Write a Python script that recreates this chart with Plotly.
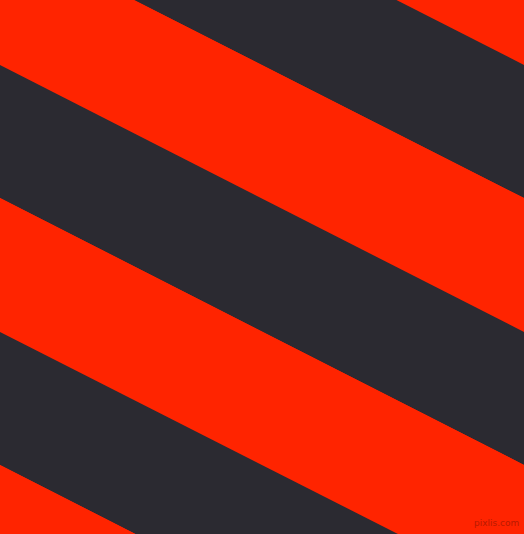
import plotly.graph_objects as go

# stripe boundaries where they meet the left edge (y, px from top)
left_edge = [-335, -202, -68, 65, 198, 332, 465, 598]
# same boundaries at the right edge (they fall by two stripes across the width)
right_edge = [-68, 65, 198, 332, 465, 598, 732, 865]
stripe_colors = ["#FF2400", "#2B2A31", "#FF2400", "#2B2A31", "#FF2400", "#2B2A31", "#FF2400"]

W, H = 524, 534

fig = go.Figure()

for i, col in enumerate(stripe_colors):
    fig.add_trace(go.Scatter(
        x=[0, W, W, 0, 0],
        y=[left_edge[i], right_edge[i], right_edge[i + 1], left_edge[i + 1], left_edge[i]],
        mode="lines",
        fill="toself",
        fillcolor=col,
        line=dict(width=0, color=col),
        hoverinfo="skip",
        showlegend=False,
    ))

fig.add_annotation(
    text="pixlis.com", xref="paper", yref="paper", x=0.995, y=0.008,
    xanchor="right", yanchor="bottom", showarrow=False,
    font=dict(family="DejaVu Sans", size=9, color="#B81A00"),
)

fig.update_layout(
    width=W, height=H,
    margin=dict(l=0, r=0, t=0, b=0),
    paper_bgcolor="#FF2400",
    plot_bgcolor="#FF2400",
    xaxis=dict(range=[0, W], visible=False, fixedrange=True),
    yaxis=dict(range=[H, 0], visible=False, fixedrange=True),
)

# drop the page margin so the figure sits flush in the window
fig.write_html(
    "out.html",
    config={"displayModeBar": False},
    post_script="document.body.style.margin='0';document.body.style.overflow='hidden';",
)
